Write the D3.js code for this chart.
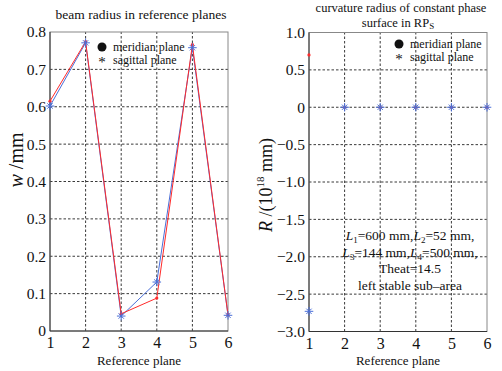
<!DOCTYPE html>
<html><head><meta charset="utf-8">
<script src="https://cdn.jsdelivr.net/npm/d3@7/dist/d3.min.js"></script>
<style>body{margin:0;background:#fff}svg{display:block}</style>
</head><body><svg id="c" width="502" height="371"></svg>
<script>
const planes = [1, 2, 3, 4, 5, 6];
const wMeridian = [0.615, 0.774, 0.046, 0.088, 0.766, 0.043];
const wSagittal = [0.602, 0.771, 0.040, 0.131, 0.758, 0.042];
const rMeridian = [0.70, 0, 0, 0, 0, 0];
const rSagittal = [-2.73, 0, 0, 0, 0, 0];
const leftYTicks = [0, 0.1, 0.2, 0.3, 0.4, 0.5, 0.6, 0.7, 0.8];
const rightYTicks = [1.0, 0.5, 0, -0.5, -1.0, -1.5, -2.0, -2.5, -3.0];
const legendLabels = ["meridian plane", "sagittal plane"];
const noteLines = [
  [["L","i"],["1","sub"],["=600 mm,",""],["L","i"],["2","sub"],["=52 mm,",""]],
  [["L","i"],["3","sub"],["=144 mm,",""],["L","i"],["4","sub"],["=500 mm,",""]],
  [["Theat=14.5",""]],
  [["left stable sub\u2013area",""]]
];
const FONT = "'Liberation Serif', 'DejaVu Serif', 'Times New Roman', serif";
const red = "#ff2a2a", blue = "#4a6fd8";
const svg = d3.select("#c").attr("font-family", FONT);

function panel(opt) {
  const x = d3.scaleLinear().domain([1, 6]).range([opt.x0, opt.x1]);
  const y = d3.scaleLinear().domain(opt.ydom).range([opt.y0, opt.y1]);
  const g = svg.append("g");
  g.selectAll(".gx").data(planes.slice(1, 5)).join("line")
    .attr("x1", d => x(d)).attr("x2", d => x(d)).attr("y1", opt.y0).attr("y2", opt.y1)
    .attr("stroke", "#222").attr("stroke-width", 0.9).attr("stroke-dasharray", "2.5,2");
  g.selectAll(".gy").data(opt.yticks.filter(t => t !== opt.ydom[0] && t !== opt.ydom[1])).join("line")
    .attr("y1", d => y(d)).attr("y2", d => y(d)).attr("x1", opt.x0).attr("x2", opt.x1)
    .attr("stroke", "#222").attr("stroke-width", 0.9).attr("stroke-dasharray", "2.5,2");
  g.append("rect").attr("x", opt.x0).attr("y", opt.y1).attr("width", opt.x1 - opt.x0).attr("height", opt.y0 - opt.y1)
    .attr("fill", "none").attr("stroke", "#888").attr("stroke-width", 1);
  g.append("line").attr("x1", opt.x0).attr("x2", opt.x0).attr("y1", opt.y0).attr("y2", opt.y1).attr("stroke", "#333");
  g.append("line").attr("x1", opt.x0).attr("x2", opt.x1).attr("y1", opt.y0).attr("y2", opt.y0).attr("stroke", "#333");
  const ax = d3.axisBottom(x).tickValues(planes).tickFormat(d3.format("d")).tickSize(0).tickPadding(6);
  const gxA = g.append("g").attr("transform", `translate(0,${opt.y0})`).call(ax);
  gxA.attr("font-family", FONT).attr("font-size", 16);
  gxA.select(".domain").remove();
  gxA.selectAll("text").attr("fill", "#111");
  const ay = d3.axisLeft(y).tickValues(opt.yticks).tickFormat(opt.fmt).tickSize(0).tickPadding(4);
  const gyA = g.append("g").attr("transform", `translate(${opt.x0},0)`).call(ay);
  gyA.attr("font-family", FONT).attr("font-size", 15.5);
  gyA.select(".domain").remove();
  gyA.selectAll("text").attr("fill", "#111");
  g.append("text").attr("x", (opt.x0 + opt.x1) / 2).attr("y", 365).attr("text-anchor", "middle")
    .attr("font-size", 13).attr("fill", "#111").text("Reference plane");
  const line = d3.line().x((d, i) => x(planes[i])).y(d => y(d));
  if (opt.lines) {
    g.append("path").datum(opt.sag).attr("d", line).attr("fill", "none").attr("stroke", blue).attr("stroke-width", 1);
    g.append("path").datum(opt.mer).attr("d", line).attr("fill", "none").attr("stroke", red).attr("stroke-width", 1);
  }
  g.selectAll(".mr").data(opt.mer).join("circle").attr("cx", (d, i) => x(planes[i])).attr("cy", d => y(d))
    .attr("r", 1.6).attr("fill", red);
  g.selectAll(".ms").data(opt.sag).join("path")
    .attr("transform", (d, i) => `translate(${x(planes[i])},${y(d)})`)
    .attr("d", d3.symbol().type(d3.symbolTimes).size(20)).attr("stroke", blue).attr("stroke-width", 1).attr("fill", "none");
  g.selectAll(".ms2").data(opt.sag).join("path")
    .attr("transform", (d, i) => `translate(${x(planes[i])},${y(d)})`)
    .attr("d", d3.symbol().type(d3.symbolPlus).size(26)).attr("stroke", blue).attr("stroke-width", 1).attr("fill", "none");
  const lg = g.append("g").attr("transform", `translate(${opt.lx},${opt.ly})`).attr("fill", "#111");
  lg.append("circle").attr("cx", 0).attr("cy", 0).attr("r", 4.5);
  lg.append("text").attr("x", 11).attr("y", 4).attr("font-size", 12).text(legendLabels[0]);
  lg.append("text").attr("x", 0).attr("y", 20).attr("text-anchor", "middle").attr("font-size", 15).text("*");
  lg.append("text").attr("x", 11).attr("y", 17).attr("font-size", 12).text(legendLabels[1]);
  return {x, y, g};
}

const fmtL = d => d === 0 ? "0" : d3.format(".1f")(d);
const fmtR = d => d === 0 ? "0" : d3.format(".1f")(d).replace("-", "\u2212");

panel({x0: 50, x1: 228, y0: 331, y1: 32, ydom: [0, 0.8], yticks: leftYTicks, fmt: fmtL,
  mer: wMeridian, sag: wSagittal, lines: true, lx: 102, ly: 47});
panel({x0: 309, x1: 487, y0: 331.5, y1: 32.5, ydom: [-3, 1], yticks: rightYTicks, fmt: fmtR,
  mer: rMeridian, sag: rSagittal, lines: false, lx: 399, ly: 44});

svg.append("text").attr("x", 141).attr("y", 19).attr("text-anchor", "middle").attr("font-size", 13.5).attr("fill", "#111")
  .text("beam radius in reference planes");
svg.append("text").attr("x", 401).attr("y", 12).attr("text-anchor", "middle").attr("font-size", 12.5).attr("fill", "#111")
  .text("curvature radius of constant phase");
const t2 = svg.append("text").attr("x", 398).attr("y", 26.5).attr("text-anchor", "middle").attr("font-size", 12.5).attr("fill", "#111");
t2.append("tspan").text("surface in RP");
t2.append("tspan").attr("font-size", 9).attr("dy", 2.5).text("S");

const yl = svg.append("text").attr("transform", "translate(23,160) rotate(-90)").attr("text-anchor", "middle").attr("font-size", 20).attr("fill", "#111");
yl.append("tspan").attr("font-style", "italic").text("w");
yl.append("tspan").text(" /mm");
const yr = svg.append("text").attr("transform", "translate(272,185) rotate(-90)").attr("text-anchor", "middle").attr("font-size", 18).attr("fill", "#111");
yr.append("tspan").attr("font-style", "italic").text("R");
yr.append("tspan").text(" /(10");
yr.append("tspan").attr("font-size", 11).attr("dy", -8).text("18");
yr.append("tspan").attr("dy", 8).text(" mm)");

noteLines.forEach((ln, i) => {
  const t = svg.append("text").attr("x", 410).attr("y", 240 + i * 16.5).attr("text-anchor", "middle").attr("font-size", 13.5).attr("fill", "#111");
  let prevSub = false;
  ln.forEach(([s, k]) => {
    const sp = t.append("tspan").text(s);
    if (k === "i") sp.attr("font-style", "italic");
    if (k === "sub") sp.attr("font-size", 9).attr("dy", 3);
    else if (prevSub) sp.attr("dy", -3);
    prevSub = k === "sub";
  });
});
</script></body></html>
